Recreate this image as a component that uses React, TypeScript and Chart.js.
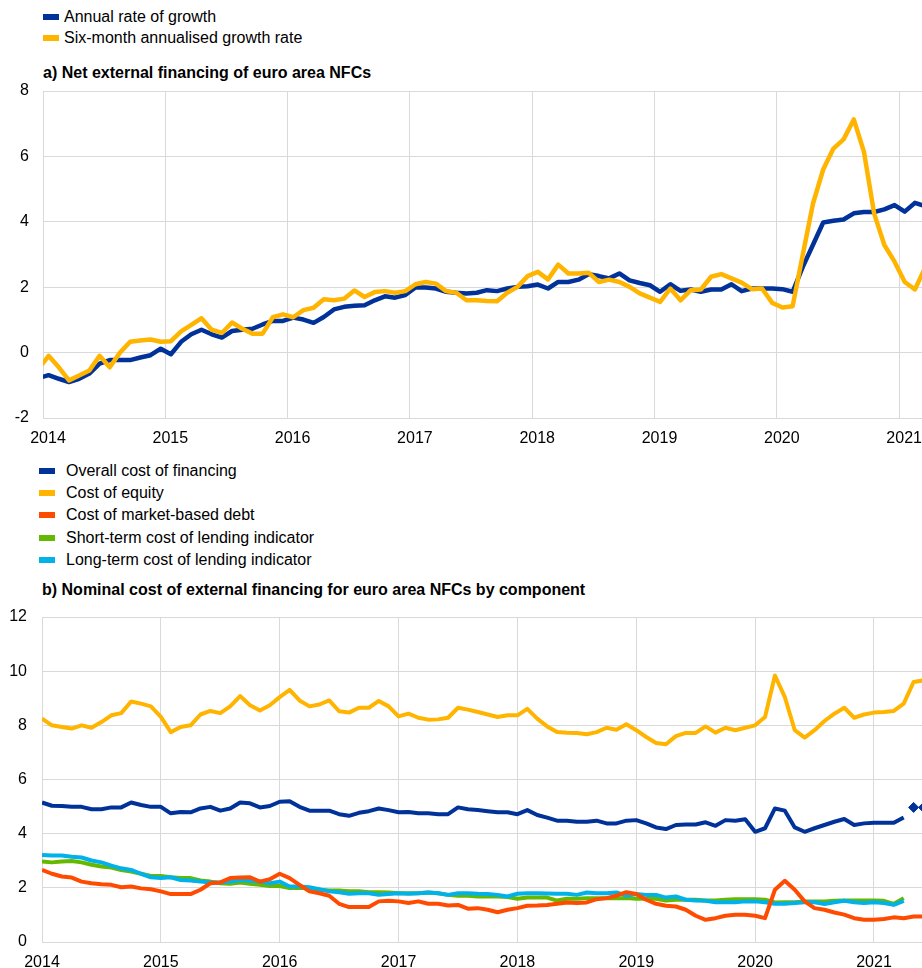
import React, { useEffect, useRef } from "react";
import { Chart, registerables } from "chart.js";

Chart.register(...registerables);

const FONT = "'Liberation Sans', Arial, Helvetica, sans-serif";
const BLUE = "#003299";
const YELLOW = "#FFB400";
const RED = "#FF4B00";
const GREEN = "#65B800";
const CYAN = "#00B1EA";
const GRID = "#d9d9d9";

// ---------- tick labels ----------
const YEAR_TICKS = [2014, 2015, 2016, 2017, 2018, 2019, 2020, 2021];

// ---------- panel a: Net external financing of euro area NFCs (monthly from Dec 2013) ----------
const A_START = "2013-12";
const A_LEGEND = ["Annual rate of growth", "Six-month annualised growth rate"];
const A_ANNUAL = [
  -0.78,
  -0.69, -0.8, -0.9, -0.8, -0.64, -0.34, -0.23, -0.23, -0.23, -0.15, -0.08, 0.12,
  -0.05, 0.33, 0.56, 0.7, 0.56, 0.46, 0.66, 0.7, 0.73, 0.86, 0.97, 0.97,
  1.07, 1.01, 0.91, 1.09, 1.32, 1.4, 1.43, 1.45, 1.6, 1.72, 1.68, 1.76,
  1.99, 1.99, 1.96, 1.86, 1.83, 1.81, 1.83, 1.91, 1.88, 1.96, 2.01, 2.03,
  2.08, 1.96, 2.16, 2.16, 2.23, 2.4, 2.34, 2.27, 2.42, 2.21, 2.13, 2.06,
  1.86, 2.09, 1.89, 1.93, 1.86, 1.93, 1.93, 2.09, 1.88, 1.96, 1.96, 1.96,
  1.94, 1.86, 2.62, 3.3, 3.98, 4.03, 4.07, 4.26, 4.3, 4.3, 4.38, 4.51,
  4.31, 4.58, 4.48,
];
const A_SIXMONTH = [
  -0.5,
  -0.1, -0.45, -0.85, -0.7, -0.55, -0.1, -0.45, 0.0, 0.33, 0.37, 0.4, 0.33,
  0.35, 0.65, 0.85, 1.05, 0.7, 0.6, 0.92, 0.73, 0.58, 0.58, 1.08, 1.17,
  1.08, 1.3, 1.37, 1.63, 1.6, 1.65, 1.9, 1.7, 1.85, 1.88, 1.83, 1.88,
  2.09, 2.16, 2.11, 1.88, 1.83, 1.6, 1.6, 1.58, 1.57, 1.83, 2.01, 2.34,
  2.47, 2.24, 2.69, 2.42, 2.42, 2.44, 2.16, 2.23, 2.16, 2.01, 1.81, 1.68,
  1.55, 1.96, 1.6, 1.91, 1.93, 2.32, 2.4, 2.27, 2.14, 1.94, 1.96, 1.52,
  1.38, 1.42, 3.0, 4.56, 5.6, 6.24, 6.52, 7.13, 6.14, 4.25, 3.29, 2.78,
  2.16, 1.93, 2.6,
];

// ---------- panel b: Nominal cost of external financing (monthly from Jan 2014) ----------
const B_START = "2014-01";
const B_LEGEND = [
  "Overall cost of financing",
  "Cost of equity",
  "Cost of market-based debt",
  "Short-term cost of lending indicator",
  "Long-term cost of lending indicator",
];
const B_OVERALL = [
  5.15, 5.03, 5.02, 4.99, 4.99, 4.9, 4.9, 4.97, 4.97, 5.15, 5.06, 4.99,
  4.99, 4.75, 4.8, 4.79, 4.93, 4.99, 4.85, 4.93, 5.15, 5.12, 4.97, 5.02,
  5.18, 5.2, 4.99, 4.85, 4.85, 4.85, 4.72, 4.66, 4.77, 4.83, 4.93, 4.87,
  4.79, 4.8, 4.75, 4.75, 4.72, 4.72, 4.97, 4.9, 4.87, 4.83, 4.79, 4.79,
  4.72, 4.87, 4.69, 4.59, 4.48, 4.48, 4.44, 4.44, 4.48, 4.38, 4.38, 4.48,
  4.5, 4.38, 4.23, 4.17, 4.32, 4.34, 4.34, 4.42, 4.29, 4.5, 4.48, 4.53,
  4.07, 4.2, 4.93, 4.85, 4.23, 4.07, 4.2, 4.32, 4.44, 4.54, 4.32, 4.38,
  4.4, 4.4, 4.4, 4.6,
];
// estimates shown as diamonds (May and June 2021)
const B_OVERALL_EST_MONTHS = ["2021-05", "2021-06"];
const B_OVERALL_EST = [4.97, 4.97];
const B_EQUITY = [
  8.25, 8.0, 7.94, 7.88, 8.0, 7.91, 8.12, 8.37, 8.45, 8.88, 8.8, 8.7,
  8.31, 7.75, 7.94, 8.0, 8.4, 8.53, 8.45, 8.7, 9.08, 8.74, 8.55, 8.74,
  9.04, 9.31, 8.92, 8.7, 8.77, 8.92, 8.52, 8.47, 8.65, 8.65, 8.9, 8.7,
  8.33, 8.43, 8.28, 8.21, 8.22, 8.28, 8.65, 8.58, 8.49, 8.4, 8.31, 8.37,
  8.37, 8.61, 8.25, 7.96, 7.75, 7.73, 7.72, 7.67, 7.75, 7.91, 7.84, 8.04,
  7.82, 7.57, 7.35, 7.3, 7.6, 7.72, 7.72, 7.96, 7.73, 7.91, 7.82, 7.91,
  8.0, 8.31, 9.84, 9.04, 7.82, 7.55, 7.82, 8.16, 8.43, 8.65, 8.28, 8.4,
  8.47, 8.49, 8.53, 8.8, 9.6, 9.66,
];
const B_MARKET_DEBT = [
  2.66, 2.52, 2.42, 2.38, 2.23, 2.17, 2.13, 2.11, 2.02, 2.05, 1.98, 1.95,
  1.87, 1.77, 1.77, 1.77, 1.93, 2.17, 2.2, 2.36, 2.38, 2.39, 2.23, 2.32,
  2.52, 2.36, 2.11, 1.87, 1.8, 1.71, 1.41, 1.29, 1.29, 1.29, 1.5, 1.52,
  1.5, 1.44, 1.5, 1.41, 1.41, 1.35, 1.37, 1.23, 1.25, 1.19, 1.1, 1.19,
  1.25, 1.34, 1.35, 1.37, 1.41, 1.46, 1.44, 1.46, 1.58, 1.62, 1.71, 1.84,
  1.77, 1.56, 1.41, 1.34, 1.31, 1.19, 0.97, 0.82, 0.88, 0.97, 1.01, 1.01,
  0.97, 0.88, 1.93, 2.26, 1.93, 1.5, 1.25, 1.19, 1.09, 1.01, 0.88, 0.82,
  0.82, 0.85, 0.91, 0.88, 0.94, 0.94,
];
const B_SHORT_TERM = [
  2.97, 2.94, 2.97, 2.99, 2.94, 2.85, 2.79, 2.75, 2.66, 2.6, 2.52, 2.44,
  2.44, 2.39, 2.36, 2.36, 2.27, 2.23, 2.17, 2.15, 2.2, 2.15, 2.11, 2.07,
  2.07, 1.99, 1.99, 1.99, 1.93, 1.9, 1.9, 1.87, 1.87, 1.84, 1.84, 1.83,
  1.8, 1.8, 1.8, 1.83, 1.8, 1.74, 1.71, 1.71, 1.68, 1.68, 1.68, 1.66,
  1.6, 1.64, 1.64, 1.64, 1.53, 1.6, 1.6, 1.62, 1.62, 1.62, 1.62, 1.62,
  1.6, 1.6, 1.6, 1.53, 1.56, 1.56, 1.56, 1.53, 1.53, 1.56, 1.58, 1.58,
  1.58, 1.56, 1.46, 1.47, 1.47, 1.5, 1.5, 1.5, 1.52, 1.53, 1.53, 1.53,
  1.53, 1.52, 1.41, 1.62,
];
const B_LONG_TERM = [
  3.21, 3.19, 3.19, 3.15, 3.12, 3.01, 2.94, 2.82, 2.72, 2.66, 2.52, 2.39,
  2.36, 2.39, 2.29, 2.27, 2.23, 2.2, 2.2, 2.23, 2.29, 2.26, 2.23, 2.17,
  2.23, 2.05, 2.05, 2.02, 1.95, 1.87, 1.84, 1.78, 1.8, 1.8, 1.74, 1.77,
  1.8, 1.78, 1.8, 1.83, 1.8, 1.74, 1.8, 1.8, 1.78, 1.77, 1.74, 1.68,
  1.78, 1.8, 1.8, 1.79, 1.78, 1.78, 1.74, 1.83, 1.8, 1.8, 1.83, 1.71,
  1.77, 1.74, 1.74, 1.64, 1.68, 1.56, 1.53, 1.52, 1.47, 1.47, 1.47, 1.5,
  1.5, 1.47, 1.41, 1.41, 1.44, 1.47, 1.47, 1.4, 1.47, 1.52, 1.47, 1.44,
  1.47, 1.44, 1.37, 1.52,
];

// ---------- helpers ----------
function monthsFrom(start: string, n: number): string[] {
  const [y0, m0] = start.split("-").map(Number);
  const out: string[] = [];
  for (let i = 0; i < n; i++) {
    const t = y0 * 12 + (m0 - 1) + i;
    const y = Math.floor(t / 12);
    const m = (t % 12) + 1;
    out.push(`${y}-${m < 10 ? "0" : ""}${m}`);
  }
  return out;
}
function monthToX(label: string, offset: number): number {
  const [y, m] = label.split("-").map(Number);
  return y + (m - 1 + offset) / 12;
}
function toPoints(start: string, values: number[], offset: number) {
  const months = monthsFrom(start, values.length);
  return values.map((v, i) => ({ x: monthToX(months[i], offset), y: v }));
}

type PanelCfg = {
  datasets: any[];
  xMax: number;
  yMin: number;
  yMax: number;
  yWidth: number;
  yPad: number;
  xHeight: number;
  padTop: number;
  labelOffset: number;
};

function makeConfig(p: PanelCfg): any {
  return {
    type: "line",
    data: { datasets: p.datasets },
    options: {
      animation: false,
      responsive: false,
      maintainAspectRatio: false,
      layout: { autoPadding: false, padding: { top: p.padTop, left: 0, right: 0, bottom: 0 } },
      plugins: { legend: { display: false }, title: { display: false }, tooltip: { enabled: false } },
      elements: { point: { radius: 0 }, line: { tension: 0, borderJoinStyle: "round", borderCapStyle: "butt" } },
      scales: {
        x: {
          type: "linear",
          min: 2014,
          max: p.xMax,
          border: { display: false },
          grid: { color: GRID, lineWidth: 1, drawTicks: false },
          afterBuildTicks: (scale: any) => {
            scale.ticks = YEAR_TICKS.map((v) => ({ value: v }));
          },
          afterFit: (scale: any) => {
            scale.height = p.xHeight;
            scale.paddingLeft = 0;
            scale.paddingRight = 0;
          },
          ticks: {
            autoSkip: false,
            maxRotation: 0,
            padding: 11,
            labelOffset: p.labelOffset,
            color: "#000",
            font: { family: FONT, size: 16 },
            callback: (v: any) => String(v),
          },
        },
        y: {
          type: "linear",
          min: p.yMin,
          max: p.yMax,
          border: { display: false },
          grid: { color: GRID, lineWidth: 1, drawTicks: false },
          afterFit: (scale: any) => {
            scale.width = p.yWidth;
            scale.paddingTop = 0;
            scale.paddingBottom = 0;
          },
          ticks: {
            stepSize: 2,
            padding: p.yPad,
            color: "#000",
            font: { family: FONT, size: 16 },
          },
        },
      },
    },
  };
}

function ChartCanvas({ config, top, height }: { config: any; top: number; height: number }) {
  const ref = useRef<HTMLCanvasElement | null>(null);
  useEffect(() => {
    if (!ref.current) return;
    const chart = new Chart(ref.current, config);
    return () => chart.destroy();
  }, []);
  return (
    <canvas
      ref={ref}
      width={922}
      height={height}
      style={{ position: "absolute", left: 0, top, width: 922, height }}
    />
  );
}

function LegendRow({ color, text, cy, mx, tx }: { color: string; text: string; cy: number; mx: number; tx: number }) {
  return (
    <>
      <div style={{ position: "absolute", left: mx, top: cy - 3, width: 16, height: 6, background: color }} />
      <div
        style={{
          position: "absolute",
          left: tx,
          top: cy - 10,
          height: 20,
          lineHeight: "20px",
          fontSize: 16,
          color: "#000",
          whiteSpace: "nowrap",
        }}
      >
        {text}
      </div>
    </>
  );
}

function Title({ text, cy, x }: { text: string; cy: number; x: number }) {
  return (
    <div
      style={{
        position: "absolute",
        left: x,
        top: cy - 10,
        height: 20,
        lineHeight: "20px",
        fontSize: 16,
        fontWeight: "bold",
        color: "#000",
        whiteSpace: "nowrap",
      }}
    >
      {text}
    </div>
  );
}

export default function App() {
  const configA = makeConfig({
    datasets: [
      { label: A_LEGEND[1], data: toPoints(A_START, A_SIXMONTH, 0.55), borderColor: YELLOW, backgroundColor: YELLOW, borderWidth: 4.5 },
      { label: A_LEGEND[0], data: toPoints(A_START, A_ANNUAL, 0.55), borderColor: BLUE, backgroundColor: BLUE, borderWidth: 4.5 },
    ],
    xMax: 2021.187,
    yMin: -2,
    yMax: 8,
    yWidth: 43,
    yPad: 14,
    xHeight: 34,
    padTop: 11,
    labelOffset: 5,
  });

  const estPoints = B_OVERALL_EST.map((v, i) => ({ x: monthToX(B_OVERALL_EST_MONTHS[i], 0), y: v }));
  const configB = makeConfig({
    datasets: [
      { label: B_LEGEND[2], data: toPoints(B_START, B_MARKET_DEBT, 0), borderColor: RED, backgroundColor: RED, borderWidth: 4 },
      { label: B_LEGEND[4], data: toPoints(B_START, B_LONG_TERM, 0), borderColor: CYAN, backgroundColor: CYAN, borderWidth: 4 },
      { label: B_LEGEND[3], data: toPoints(B_START, B_SHORT_TERM, 0), borderColor: GREEN, backgroundColor: GREEN, borderWidth: 4 },
      { label: B_LEGEND[0], data: toPoints(B_START, B_OVERALL, 0), borderColor: BLUE, backgroundColor: BLUE, borderWidth: 4 },
      {
        label: B_LEGEND[0] + " (estimate)",
        data: estPoints,
        showLine: false,
        pointStyle: "rectRot",
        pointRadius: 5,
        borderWidth: 1,
        borderColor: BLUE,
        backgroundColor: BLUE,
      },
      { label: B_LEGEND[1], data: toPoints(B_START, B_EQUITY, 0), borderColor: YELLOW, backgroundColor: YELLOW, borderWidth: 4 },
    ],
    xMax: 2021.404,
    yMin: 0,
    yMax: 12,
    yWidth: 42,
    yPad: 15,
    xHeight: 26,
    padTop: 17,
    labelOffset: 0,
  });

  const legendAColors = [BLUE, YELLOW];
  const legendBColors = [BLUE, YELLOW, RED, GREEN, CYAN];
  const legendAY = [17, 38];
  const legendBY = [471, 493, 515, 538, 560];

  return (
    <div
      style={{
        position: "absolute",
        left: 0,
        top: 0,
        width: 922,
        height: 968,
        overflow: "hidden",
        background: "#fff",
        fontFamily: FONT,
      }}
    >
      {A_LEGEND.map((t, i) => (
        <LegendRow key={t} color={legendAColors[i]} text={t} cy={legendAY[i]} mx={43} tx={64} />
      ))}
      <Title text="a) Net external financing of euro area NFCs" cy={73} x={43} />
      <ChartCanvas config={configA} top={80} height={372} />

      {B_LEGEND.map((t, i) => (
        <LegendRow key={t} color={legendBColors[i]} text={t} cy={legendBY[i]} mx={39} tx={66} />
      ))}
      <Title text="b) Nominal cost of external financing for euro area NFCs by component" cy={590} x={42} />
      <ChartCanvas config={configB} top={600} height={368} />
    </div>
  );
}
